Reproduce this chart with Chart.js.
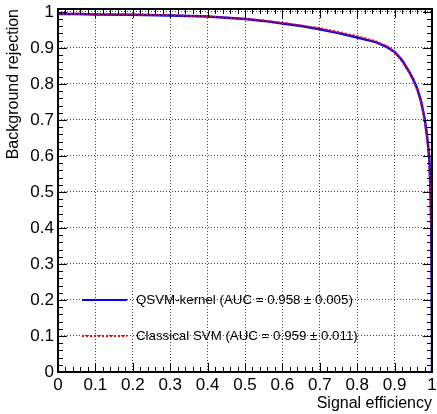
<!DOCTYPE html>
<html>
<head>
<meta charset="utf-8">
<script src="https://cdn.jsdelivr.net/npm/chart.js@4.4.1/dist/chart.umd.min.js"></script>
<style>
  html, body { margin: 0; padding: 0; background: #fff; }
  canvas { display: block; }
</style>
</head>
<body>
<canvas id="rocChart" width="437" height="414"></canvas>
<script>
const signalEff = [0, 0.05, 0.1, 0.2, 0.3, 0.4, 0.5, 0.55, 0.6, 0.65, 0.7, 0.75, 0.8, 0.85, 0.88, 0.9, 0.92, 0.94, 0.95, 0.96, 0.97, 0.975, 0.98, 0.985, 0.99, 0.993, 0.996, 0.998, 0.999, 1.0, 1.0];
const qsvmRejection = [0.994, 0.994, 0.993, 0.992, 0.990, 0.987, 0.980, 0.975, 0.968, 0.961, 0.952, 0.941, 0.929, 0.916, 0.902, 0.889, 0.866, 0.832, 0.812, 0.788, 0.755, 0.730, 0.705, 0.670, 0.625, 0.590, 0.500, 0.400, 0.250, 0.100, 0.0];
const svmRejection = [0.995, 0.995, 0.994, 0.993, 0.991, 0.987, 0.981, 0.976, 0.970, 0.962, 0.955, 0.944, 0.933, 0.918, 0.904, 0.888, 0.862, 0.830, 0.808, 0.784, 0.752, 0.725, 0.700, 0.665, 0.620, 0.585, 0.495, 0.395, 0.245, 0.100, 0.0];
const axisTicks = [0, 0.1, 0.2, 0.3, 0.4, 0.5, 0.6, 0.7, 0.8, 0.9, 1];
const seriesLabels = ['QSVM-kernel (AUC = 0.958 \u00b1 0.005)', 'Classical SVM (AUC = 0.959 \u00b1 0.011)'];
const legendRows = [0.2, 0.1];

const toPoints = (ys) => signalEff.map((x, i) => ({ x: x, y: ys[i] }));
const fmt = (v) => String(Number(v.toFixed(1)));

// ROOT-style frame with inside major/minor ticks on all four sides, plus the legend
const rootFrame = {
    id: 'rootFrame',
    afterDraw(chart) {
        const { ctx, chartArea: a, scales } = chart;
        const xs = scales.x, ys = scales.y;
        ctx.save();
        ctx.strokeStyle = '#000';
        ctx.lineWidth = 1;
        ctx.beginPath();
        for (let i = 0; i < axisTicks.length; i++) {
            const v = axisTicks[i];
            const px = Math.round(xs.getPixelForValue(v)) + 0.5;
            const py = Math.round(ys.getPixelForValue(v)) + 0.5;
            ctx.moveTo(px, a.bottom); ctx.lineTo(px, a.bottom - 9);
            ctx.moveTo(px, a.top); ctx.lineTo(px, a.top + 9);
            ctx.moveTo(a.left, py); ctx.lineTo(a.left + 9, py);
            ctx.moveTo(a.right, py); ctx.lineTo(a.right - 9, py);
            if (i < axisTicks.length - 1) {
                const step = (axisTicks[i + 1] - v) / 5;
                for (let k = 1; k < 5; k++) {
                    const mx = Math.round(xs.getPixelForValue(v + k * step)) + 0.5;
                    const my = Math.round(ys.getPixelForValue(v + k * step)) + 0.5;
                    ctx.moveTo(mx, a.bottom); ctx.lineTo(mx, a.bottom - 5);
                    ctx.moveTo(mx, a.top); ctx.lineTo(mx, a.top + 5);
                    ctx.moveTo(a.left, my); ctx.lineTo(a.left + 5, my);
                    ctx.moveTo(a.right, my); ctx.lineTo(a.right - 5, my);
                }
            }
        }
        ctx.stroke();
        ctx.lineWidth = 2;
        ctx.strokeRect(a.left, a.top, a.right - a.left, a.bottom - a.top);

        // legend
        ctx.font = '13.3px "Liberation Sans", Arial, sans-serif';
        ctx.textBaseline = 'middle';
        ctx.fillStyle = '#000';
        chart.data.datasets.forEach((ds, i) => {
            const y = ys.getPixelForValue(legendRows[i]);
            ctx.strokeStyle = ds.borderColor;
            ctx.lineWidth = 2;
            ctx.setLineDash(ds.borderDash || []);
            ctx.beginPath();
            ctx.moveTo(82, y); ctx.lineTo(127, y);
            ctx.stroke();
            ctx.setLineDash([]);
            ctx.fillText(ds.label, 136, y);
        });
        ctx.restore();
    }
};

new Chart(document.getElementById('rocChart'), {
    type: 'line',
    data: {
        datasets: [
            {
                label: seriesLabels[0],
                data: toPoints(qsvmRejection),
                borderColor: '#0000ff',
                borderWidth: 2.5,
                pointRadius: 0,
                tension: 0,
                order: 1
            },
            {
                label: seriesLabels[1],
                data: toPoints(svmRejection),
                borderColor: '#ff0000',
                borderWidth: 2,
                borderDash: [2, 2],
                pointRadius: 0,
                tension: 0,
                order: 0
            }
        ]
    },
    options: {
        responsive: false,
        animation: false,
        layout: { padding: { top: 9, right: 5, left: 0, bottom: 0 } },
        plugins: { legend: { display: false }, tooltip: { enabled: false } },
        scales: {
            x: {
                type: 'linear',
                min: 0,
                max: 1,
                afterBuildTicks: (s) => { s.ticks = axisTicks.map((v) => ({ value: v })); },
                afterFit: (s) => { s.height = 42; s.paddingLeft = 0; s.paddingRight = 0; },
                grid: { color: '#444', lineWidth: 1, drawTicks: false },
                border: { display: false, dash: [1, 2] },
                ticks: {
                    autoSkip: false,
                    maxRotation: 0,
                    padding: 3,
                    color: '#000',
                    font: { family: '"Liberation Sans", Arial, sans-serif', size: 17 },
                    callback: (v) => fmt(v)
                },
                title: {
                    display: true,
                    text: 'Signal efficiency',
                    align: 'end',
                    color: '#000',
                    padding: { top: 0, bottom: 1 },
                    font: { family: '"Liberation Sans", Arial, sans-serif', size: 16 }
                }
            },
            y: {
                type: 'linear',
                min: 0,
                max: 1.008,
                afterBuildTicks: (s) => { s.ticks = axisTicks.map((v) => ({ value: v })); },
                afterFit: (s) => { s.width = 58; s.paddingTop = 0; s.paddingBottom = 0; },
                grid: { color: '#444', lineWidth: 1, drawTicks: false },
                border: { display: false, dash: [1, 2] },
                ticks: {
                    autoSkip: false,
                    padding: 4,
                    color: '#000',
                    font: { family: '"Liberation Sans", Arial, sans-serif', size: 17 },
                    callback: (v) => fmt(v)
                },
                title: {
                    display: true,
                    text: 'Background rejection',
                    align: 'end',
                    color: '#000',
                    padding: { top: 4, bottom: 0 },
                    font: { family: '"Liberation Sans", Arial, sans-serif', size: 16 }
                }
            }
        }
    },
    plugins: [rootFrame]
});
</script>
</body>
</html>
